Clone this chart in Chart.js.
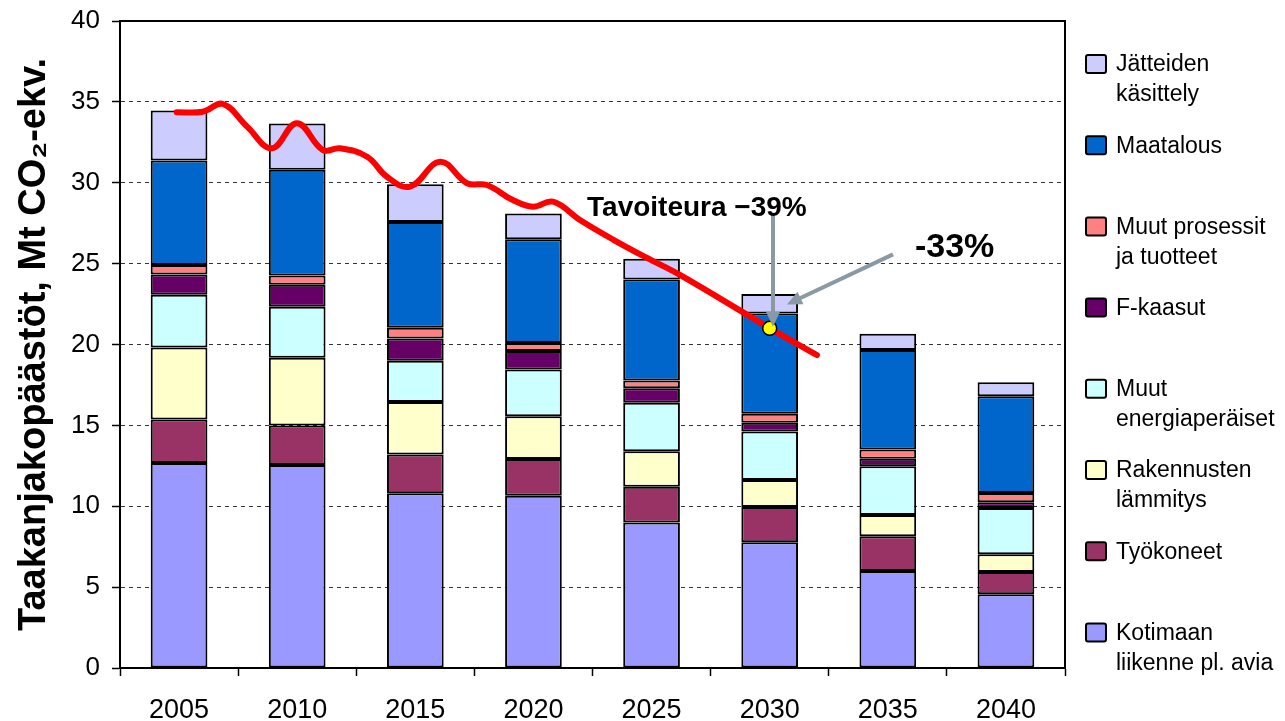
<!DOCTYPE html>
<html>
<head>
<meta charset="utf-8">
<script src="https://cdn.jsdelivr.net/npm/chart.js@4.4.1/dist/chart.umd.min.js"></script>
<style>
  body { margin: 0; background: #fff; }
  #wrap { width: 1285px; height: 721px; }
</style>
</head>
<body>
<div id="wrap"><canvas id="chart" width="1285" height="721"></canvas></div>
<script>
// categories
const years = ['2005', '2010', '2015', '2020', '2025', '2030', '2035', '2040'];

// series values, Mt CO2-ekv. (bottom to top of stack)
const kotimaanLiikenne = [12.67, 12.55, 10.8, 10.65, 9.0, 7.78, 6.0, 4.56];
const tyokoneet = [2.7, 2.45, 2.4, 2.27, 2.2, 2.17, 2.14, 1.37];
const rakennustenLammitys = [4.45, 4.18, 3.25, 2.64, 2.2, 1.67, 1.32, 1.11];
const muutEnergia = [3.25, 3.15, 2.55, 2.89, 3.0, 3.0, 3.02, 2.85];
const fKaasut = [1.25, 1.37, 1.37, 1.15, 0.9, 0.54, 0.45, 0.35];
const muutProsessit = [0.6, 0.57, 0.66, 0.5, 0.47, 0.56, 0.58, 0.58];
const maatalous = [6.45, 6.53, 6.54, 6.4, 6.25, 6.2, 6.15, 5.98];
const jatteet = [3.1, 2.87, 2.33, 1.6, 1.28, 1.2, 1.0, 0.87];

const seriesNames = [
    'Kotimaan\nliikenne pl. avia',
    'Työkoneet',
    'Rakennusten\nlämmitys',
    'Muut\nenergiaperäiset',
    'F-kaasut',
    'Muut prosessit\nja tuotteet',
    'Maatalous',
    'Jätteiden\nkäsittely'
];
const seriesColors = ['#9999FF', '#993366', '#FFFFCC', '#CCFFFF', '#660066', '#FF8080', '#0066CC', '#CCCCFF'];

// red target path (year, value)
const trendYears = [2004.9, 2006.0, 2006.86, 2007.88, 2008.93, 2009.99, 2011.09, 2011.81, 2012.96, 2013.8,
    2014.78, 2016.05, 2017.19, 2018.03, 2019.13, 2019.98, 2020.83, 2021.97, 2023.37, 2024.81, 2026.2, 2030.01, 2032.0];
const trendValues = [34.36, 34.39, 34.87, 33.47, 32.13, 33.68, 32.02, 32.13, 31.61, 30.37,
    29.76, 31.3, 29.97, 29.86, 28.93, 28.52, 28.83, 27.7, 26.49, 25.35, 24.3, 21.0, 19.35];

// 2030 target marker
const targetYear = [2030];
const targetValue = [21.0];

// y ticks
const yTicks = [0, 5, 10, 15, 20, 25, 30, 35, 40];

const FONT = "'Liberation Sans', Arial, sans-serif";

const stackData = [kotimaanLiikenne, tyokoneet, rakennustenLammitys, muutEnergia, fKaasut, muutProsessit, maatalous, jatteet];

const barSets = stackData.map((vals, i) => ({
    type: 'bar',
    label: seriesNames[i].replace('\n', ' '),
    data: vals,
    backgroundColor: seriesColors[i],
    borderColor: '#000',
    borderWidth: 2,
    borderSkipped: false,
    barPercentage: 0.48,
    categoryPercentage: 1,
    grouped: false,
    stack: 'emissions',
    xAxisID: 'x',
    order: 2
}));

// draws the plot frame, custom legend, texts and arrows
const decorPlugin = {
    id: 'decor',
    afterDraw(chart) {
        const ctx = chart.ctx;
        const a = chart.chartArea;
        const xl = chart.scales.xLine;
        const y = chart.scales.y;

        ctx.save();
        ctx.strokeStyle = '#000';
        ctx.lineWidth = 2;
        ctx.strokeRect(a.left, a.top, a.right - a.left, a.bottom - a.top);

        // legend, top item = top of stack
        ctx.font = '23px ' + FONT;
        ctx.textBaseline = 'middle';
        ctx.textAlign = 'left';
        for (let k = 0; k < seriesNames.length; k++) {
            const i = seriesNames.length - 1 - k;
            const cy = 64 + k * 81.2;
            const bx = a.right + 21;
            ctx.fillStyle = seriesColors[i];
            ctx.beginPath();
            ctx.roundRect(bx, cy - 9, 20, 18, 2);
            ctx.fill();
            ctx.lineWidth = 2;
            ctx.strokeStyle = '#000';
            ctx.stroke();
            ctx.fillStyle = '#000';
            seriesNames[i].split('\n').forEach((line, j) => {
                ctx.fillText(line, bx + 30, cy + 1 + j * 30);
            });
        }

        // arrows
        const arrow = (x1, y1, x2, y2) => {
            const px1 = xl.getPixelForValue(x1), py1 = y.getPixelForValue(y1);
            const px2 = xl.getPixelForValue(x2), py2 = y.getPixelForValue(y2);
            const ang = Math.atan2(py2 - py1, px2 - px1);
            const head = 15;
            ctx.strokeStyle = '#8A99A3';
            ctx.fillStyle = '#8A99A3';
            ctx.lineWidth = 4;
            ctx.beginPath();
            ctx.moveTo(px1, py1);
            ctx.lineTo(px2 - Math.cos(ang) * head * 0.8, py2 - Math.sin(ang) * head * 0.8);
            ctx.stroke();
            ctx.beginPath();
            ctx.moveTo(px2, py2);
            ctx.lineTo(px2 - head * Math.cos(ang) + 7 * Math.sin(ang), py2 - head * Math.sin(ang) - 7 * Math.cos(ang));
            ctx.lineTo(px2 - head * Math.cos(ang) - 7 * Math.sin(ang), py2 - head * Math.sin(ang) + 7 * Math.cos(ang));
            ctx.closePath();
            ctx.fill();
        };
        arrow(2030.14, 28.0, 2030.14, 21.1);
        arrow(2035.22, 25.57, 2030.73, 22.48);

        // texts
        ctx.fillStyle = '#000';
        ctx.textAlign = 'left';
        ctx.textBaseline = 'middle';
        ctx.font = 'bold 28px ' + FONT;
        ctx.fillText('Tavoiteura \u221239%', xl.getPixelForValue(2022.27), y.getPixelForValue(28.44));
        ctx.font = 'bold 34px ' + FONT;
        ctx.fillText('-33%', xl.getPixelForValue(2036.15), y.getPixelForValue(25.97));
        ctx.restore();
    }
};

new Chart(document.getElementById('chart'), {
    type: 'bar',
    data: {
        labels: years,
        datasets: [
            {
                type: 'line',
                label: 'target',
                data: targetYear.map((x, i) => ({ x: x, y: targetValue[i] })),
                xAxisID: 'xLine',
                stack: 'target',
                showLine: false,
                pointRadius: 7,
                pointBackgroundColor: '#FFFF00',
                pointBorderColor: '#000',
                pointBorderWidth: 1.5,
                order: 0
            },
            {
                type: 'line',
                label: 'trend',
                data: trendYears.map((x, i) => ({ x: x, y: trendValues[i] })),
                xAxisID: 'xLine',
                stack: 'trend',
                borderColor: '#FF0000',
                borderWidth: 6,
                borderCapStyle: 'round',
                borderJoinStyle: 'round',
                pointRadius: 0,
                tension: 0.4,
                fill: false,
                order: 1
            },
            ...barSets
        ]
    },
    options: {
        responsive: false,
        animation: false,
        layout: { padding: { left: 0, right: 220, top: 21, bottom: 0 } },
        plugins: {
            legend: { display: false },
            tooltip: { enabled: false }
        },
        scales: {
            x: {
                type: 'category',
                stacked: true,
                offset: true,
                grid: {
                    offset: true,
                    drawOnChartArea: false,
                    drawTicks: true,
                    tickLength: 8,
                    tickColor: '#000',
                    tickWidth: 1.5
                },
                border: { display: true, color: '#000', width: 2 },
                ticks: {
                    color: '#000',
                    padding: 18,
                    font: { family: FONT, size: 27 }
                },
                afterFit(scale) { scale.height = 53; }
            },
            xLine: {
                type: 'linear',
                axis: 'x',
                position: 'bottom',
                min: 2002.5,
                max: 2042.5,
                offset: false,
                grid: { offset: false },
                display: false
            },
            y: {
                stacked: true,
                min: 0,
                max: 40,
                afterBuildTicks(scale) { scale.ticks = yTicks.map(v => ({ value: v })); },
                grid: {
                    color: ctx => (ctx.tick && (ctx.tick.value === 0 || ctx.tick.value === 40)) ? 'rgba(0,0,0,0)' : '#333',
                    lineWidth: 1,
                    tickLength: 8,
                    tickColor: '#000',
                    tickWidth: 1.5
                },
                border: { display: true, color: '#000', width: 2, dash: [4, 4] },
                ticks: {
                    color: '#000',
                    padding: 12,
                    font: { family: FONT, size: 26 }
                },
                title: {
                    display: true,
                    text: 'Taakanjakopäästöt, Mt CO\u2082-ekv.',
                    color: '#000',
                    padding: { top: 12, bottom: 0 },
                    font: { family: FONT, size: 38, weight: 'bold' }
                },
                afterFit(scale) {
                    scale.width = 120;
                    scale.paddingTop = 0;
                    scale.paddingBottom = 0;
                }
            }
        }
    },
    plugins: [decorPlugin]
});
</script>
</body>
</html>
